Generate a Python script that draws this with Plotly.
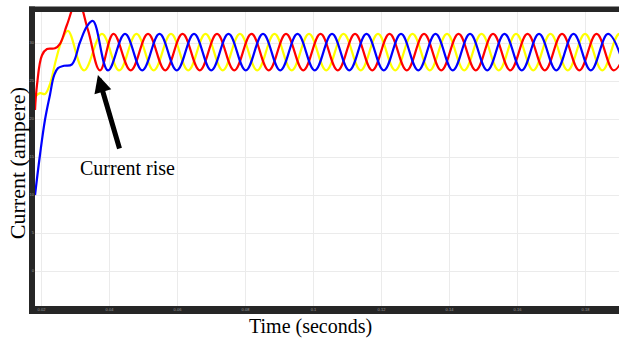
import plotly.graph_objects as go

# ---- data ----
time_red = [0.01810, 0.01868, 0.02015, 0.02162, 0.02397, 0.02544, 0.02750, 0.03059, 0.03368, 0.03721,
            0.04118, 0.04625, 0.05133, 0.05640, 0.06148, 0.06655, 0.07162, 0.07670, 0.08177, 0.08684,
            0.09192, 0.09699, 0.10207, 0.10714, 0.11221, 0.11729, 0.12236, 0.12744, 0.13251, 0.13758,
            0.14266, 0.14773, 0.15281, 0.15788, 0.16295, 0.16803, 0.17310, 0.17818, 0.18325, 0.18832,
            0.19340]
current_red = [21.2, 24.5, 28.4, 29.2, 29.3, 29.9, 32.4, 35.7, 31.7, 26.4,
               31.2, 26.4, 31.2, 26.4, 31.2, 26.4, 31.2, 26.4, 31.2, 26.4,
               31.2, 26.4, 31.2, 26.4, 31.2, 26.4, 31.2, 26.4, 31.2, 26.4,
               31.2, 26.4, 31.2, 26.4, 31.2, 26.4, 31.2, 26.4, 31.2, 26.4,
               31.2]

time_yellow = [0.01810, 0.01956, 0.02103, 0.02250, 0.02426, 0.02603, 0.02779, 0.03250,
               0.03779, 0.04287, 0.04794, 0.05301, 0.05809, 0.06316, 0.06824, 0.07331,
               0.07838, 0.08346, 0.08853, 0.09360, 0.09868, 0.10375, 0.10883, 0.11390,
               0.11897, 0.12405, 0.12912, 0.13420, 0.13927, 0.14434, 0.14942, 0.15449,
               0.15957, 0.16464, 0.16971, 0.17479, 0.17986, 0.18494, 0.19001, 0.19508]
current_yellow = [22.9, 23.4, 23.3, 24.6, 27.8, 30.4, 31.6, 26.4,
                  31.2, 26.4, 31.2, 26.4, 31.2, 26.4, 31.2, 26.4,
                  31.2, 26.4, 31.2, 26.4, 31.2, 26.4, 31.2, 26.4,
                  31.2, 26.4, 31.2, 26.4, 31.2, 26.4, 31.2, 26.4,
                  31.2, 26.4, 31.2, 26.4, 31.2, 26.4, 31.2, 26.4]

time_blue = [0.01810, 0.01956, 0.02103, 0.02250, 0.02368, 0.02485, 0.02662, 0.02897, 0.03132,
             0.03338, 0.03515, 0.03956,
             0.04456, 0.04963, 0.05471, 0.05978, 0.06486, 0.06993, 0.07500, 0.08008,
             0.08515, 0.09022, 0.09530, 0.10037, 0.10545, 0.11052, 0.11559, 0.12067,
             0.12574, 0.13082, 0.13589, 0.14096, 0.14604, 0.15111, 0.15619, 0.16126,
             0.16633, 0.17141, 0.17648, 0.18156, 0.18663, 0.19170]
current_blue = [10.0, 15.3, 19.9, 23.2, 25.7, 26.7, 27.0, 27.2, 30.1,
                32.2, 32.9, 26.4,
                31.2, 26.4, 31.2, 26.4, 31.2, 26.4, 31.2, 26.4,
                31.2, 26.4, 31.2, 26.4, 31.2, 26.4, 31.2, 26.4,
                31.2, 26.4, 31.2, 26.4, 31.2, 26.4, 31.2, 26.4,
                31.2, 26.4, 31.2, 26.4, 31.2, 26.4]

x_tick_values = [0.02, 0.04, 0.06, 0.08, 0.10, 0.12, 0.14, 0.16, 0.18]
x_tick_labels = ["0.02", "0.04", "0.06", "0.08", "0.1", "0.12", "0.14", "0.16", "0.18"]
y_tick_values = [0, 5, 10, 15, 20, 25, 30]
y_tick_labels = ["0", "5", "10", "15", "20", "25", "30"]

x_title = "Time (seconds)"
y_title = "Current (ampere)"
note_text = "Current rise"

# ---- figure ----
fig = go.Figure()
for t, i, c in [(time_yellow, current_yellow, "#ffff00"),
                (time_red, current_red, "#ff0000"),
                (time_blue, current_blue, "#0000ff")]:
    fig.add_trace(go.Scatter(x=t, y=i, mode="lines",
                             line=dict(color=c, width=2.2, shape="spline", smoothing=1.1),
                             showlegend=False, hoverinfo="skip"))

dark = "#262626"
fig.update_layout(
    width=619, height=338, autosize=False,
    margin=dict(l=35, r=0, t=12, b=32, pad=0, autoexpand=False),
    paper_bgcolor="white", plot_bgcolor="white",
    xaxis=dict(range=[0.01809, 0.18985], tickvals=x_tick_values, ticktext=x_tick_labels,
               showgrid=True, gridcolor="#ebebeb", gridwidth=1, zeroline=False, automargin=False,
               showline=False, ticks="", tickfont=dict(size=4, color="#9a9a9a", family="Arial")),
    yaxis=dict(range=[-4.6, 34.08], tickvals=y_tick_values, ticktext=y_tick_labels,
               showgrid=True, gridcolor="#ebebeb", gridwidth=1, zeroline=False, automargin=False,
               showline=False, ticks="", tickfont=dict(size=4, color="#9a9a9a", family="Arial")),
    shapes=[
        dict(type="rect", xref="paper", yref="paper", x0=-0.01027, x1=0, y0=-0.0272, y1=1.0187,
             fillcolor=dark, line=dict(width=0), layer="below"),
        dict(type="rect", xref="paper", yref="paper", x0=-0.01027, x1=1.02, y0=1.0, y1=1.0187,
             fillcolor=dark, line=dict(width=0), layer="above"),
        dict(type="rect", xref="paper", yref="paper", x0=-0.01027, x1=1.02, y0=-0.0272, y1=0,
             fillcolor=dark, line=dict(width=0), layer="below"),
    ],
    annotations=[
        dict(text=y_title, xref="paper", yref="paper", x=-0.0308, y=0.486, textangle=-90,
             showarrow=False, xanchor="center", yanchor="middle",
             font=dict(family="Liberation Serif", size=22, color="black")),
        dict(text=x_title, xref="paper", yref="paper", x=0.4709, y=-0.0714,
             showarrow=False, xanchor="center", yanchor="middle",
             font=dict(family="Liberation Serif", size=20, color="black")),
        dict(text=note_text, xref="x", yref="y", x=0.04515, y=13.55,
             showarrow=False, xanchor="center", yanchor="middle",
             font=dict(family="Liberation Serif", size=20, color="black")),
        dict(text="", xref="x", yref="y", x=0.0366, y=25.8, ax=22, ay=75,
             showarrow=True, arrowhead=2, arrowsize=0.7, arrowwidth=5, arrowcolor="black"),
    ],
)

fig.write_html("out.html", config={"displayModeBar": False, "responsive": False},
               post_script="document.body.style.margin='0';")
